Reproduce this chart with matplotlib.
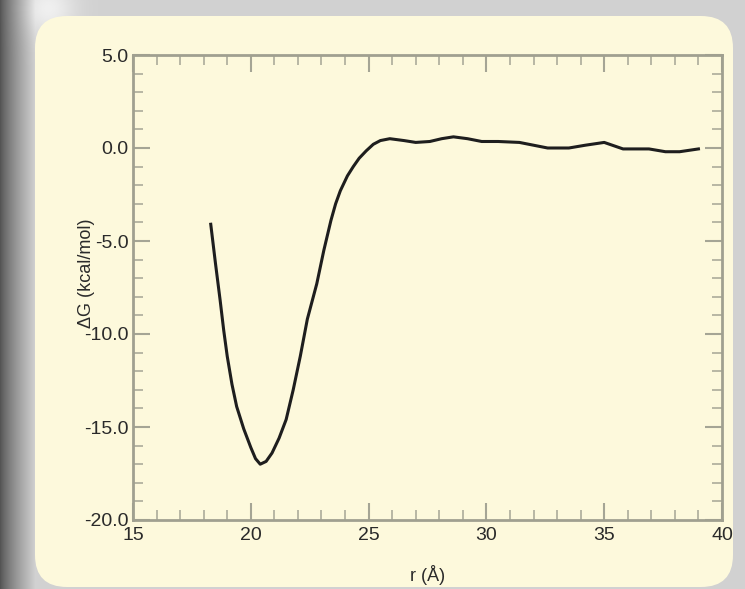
import numpy as np
import matplotlib
matplotlib.use('Agg')
import matplotlib.pyplot as plt
from matplotlib.patches import FancyBboxPatch
from matplotlib.ticker import MultipleLocator

plt.rcParams['font.family'] = ['Liberation Sans', 'DejaVu Sans']
plt.rcParams['axes.unicode_minus'] = False

# free energy profile
r_vals = [18.3, 18.5, 18.7, 18.85, 19.0, 19.2, 19.4, 19.7, 20.0, 20.2, 20.4,
          20.65, 20.9, 21.2, 21.5, 21.8, 22.1, 22.4, 22.8, 23.1, 23.4, 23.6,
          23.8, 24.1, 24.35, 24.6, 24.9, 25.2, 25.5, 25.9, 26.5, 27.0, 27.6,
          28.1, 28.6, 29.2, 29.8, 30.5, 31.4, 32.0, 32.6, 33.5, 34.2, 35.0,
          35.8, 36.9, 37.6, 38.2, 39.0]
dG_vals = [-4.1, -6.2, -8.2, -9.8, -11.2, -12.7, -13.9, -15.1, -16.1, -16.7,
           -17.0, -16.85, -16.4, -15.6, -14.6, -13.0, -11.2, -9.2, -7.3, -5.5,
           -3.9, -3.0, -2.3, -1.5, -1.0, -0.55, -0.15, 0.2, 0.4, 0.5, 0.4,
           0.3, 0.35, 0.5, 0.6, 0.5, 0.35, 0.35, 0.3, 0.15, 0.0, 0.0, 0.15,
           0.3, -0.05, -0.05, -0.2, -0.2, -0.05]
y_ticks = [5, 0, -5, -10, -15, -20]
y_ticklabels = ['5.0', '0.0', '-5.0', '-10.0', '-15.0', '-20.0']
x_ticks = [15, 20, 25, 30, 35, 40]
x_ticklabels = ['15', '20', '25', '30', '35', '40']

W, H = 745, 589
fig = plt.figure(figsize=(W / 100, H / 100), dpi=100)

# gray slide background with a dark left edge
bg = fig.add_axes([0, 0, 1, 1])
xx = np.arange(W)[None, :]
yy = np.arange(H)[:, None]
shade = np.full((H, W), 0.82)
left = 0.33 + 0.6 * np.clip(xx / 45.0, 0, 1) ** 0.8
shade = np.minimum(shade, np.broadcast_to(left, (H, W)))
glow = 0.12 * np.exp(-((xx - 48) ** 2 + (yy - 8) ** 2) / 700.0)
shade = np.clip(shade + glow, 0, 1)
bg.imshow(np.dstack([shade] * 3), extent=(0, W, H, 0), aspect='auto')
bg.set_xlim(0, W)
bg.set_ylim(H, 0)
bg.axis('off')
panel = FancyBboxPatch((35, 16), 698, 571, boxstyle='round,pad=0,rounding_size=32',
                       facecolor='#fdf9dc', edgecolor='none')
bg.add_patch(panel)

ax = fig.add_axes([133 / W, (H - 520) / H, 589 / W, 465 / H])
ax.set_facecolor('none')
ax.plot(r_vals, dG_vals, color='#1e1e1e', lw=2.2)

ax.set_xlim(15, 40)
ax.set_ylim(-20, 5)
ax.set_xticks(x_ticks)
ax.set_xticklabels(x_ticklabels)
ax.set_yticks(y_ticks)
ax.set_yticklabels(y_ticklabels)
ax.xaxis.set_minor_locator(MultipleLocator(1))
ax.yaxis.set_minor_locator(MultipleLocator(1))
ax.tick_params(which='both', direction='in', top=True, right=True,
               color='#a5a595', labelsize=14, labelcolor='#2a2a2a')
ax.tick_params(which='major', length=12, width=1.5, pad=3)
ax.tick_params(which='minor', length=7, width=1.1)
ax.tick_params(axis='x', which='major', pad=5)
for s in ax.spines.values():
    s.set_color('#a0a090')
    s.set_linewidth(2)

ax.set_xlabel('r (Å)', fontsize=13, color='#2a2a2a', labelpad=15)
ax.set_ylabel('ΔG (kcal/mol)', fontsize=13, color='#2a2a2a')
ax.yaxis.set_label_coords(-0.065, 0.53)

fig.savefig('out.png', dpi=100)
